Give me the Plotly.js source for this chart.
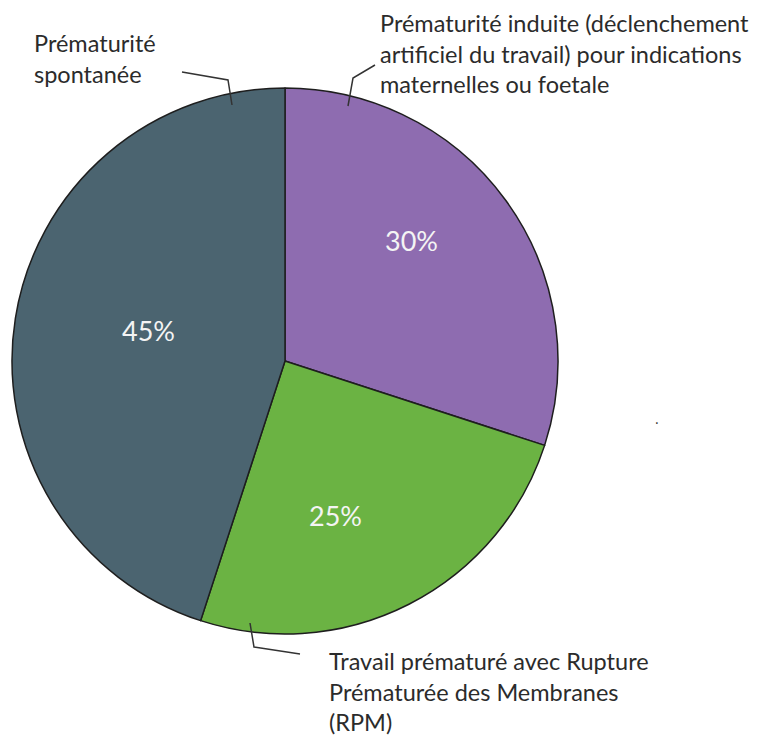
<!DOCTYPE html>
<html><head><meta charset="utf-8">
<script src="https://cdn.plot.ly/plotly-3.0.1.min.js"></script>
<style>html,body{margin:0;padding:0;background:#fff}#chart{width:773px;height:738px}</style>
</head><body><div id="chart"></div>
<script>
// data
const categories = [
  "Prématurité induite (déclenchement<br>artificiel du travail) pour indications<br>maternelles ou foetale",
  "Travail prématuré avec Rupture<br>Prématurée des Membranes<br>(RPM)",
  "Prématurité<br>spontanée"
];
const values = [30, 25, 45];
const colors = ["#8e6cb0", "#6bb343", "#4b6470"];

const W = 773, H = 738;
const px = x => x / W;
const py = y => 1 - y / H;

// label positions (pixels) for category text and percent text
const catPos = [[378, 7], [327, 645], [32, 27]];
const pctPos = [[411, 240], [335, 515], [148, 330]];
const leaders = [
  [[348,106],[353,78],[375,65]],
  [[250,623],[254,647],[300,654]],
  [[232,105],[228,80],[182,72]]
];

const annotations = [];
const shapes = [];
categories.forEach((c, i) => {
  annotations.push({
    xref: 'paper', yref: 'paper', x: px(catPos[i][0]), y: py(catPos[i][1]),
    xanchor: 'left', yanchor: 'top', align: 'left', showarrow: false,
    text: c, font: {family: 'Lato, "Open Sans", sans-serif', size: 23.5, color: '#2b2b2b'}
  });
  annotations.push({
    xref: 'paper', yref: 'paper', x: px(pctPos[i][0]), y: py(pctPos[i][1]),
    xanchor: 'center', yanchor: 'middle', showarrow: false,
    text: values[i] + '%', font: {family: 'Lato, "Open Sans", sans-serif', size: 27, color: '#f4f4f4'}
  });
  const p = leaders[i];
  shapes.push({
    type: 'path', xref: 'paper', yref: 'paper',
    path: 'M' + p.map(q => px(q[0]) + ',' + py(q[1])).join(' L'),
    line: {color: '#333', width: 1.5}
  });
});
annotations.push({xref:'paper',yref:'paper',x:px(661),y:py(430),showarrow:false,text:'.',font:{size:14,color:'#333'},yanchor:'bottom'});

const trace = {
  type: 'pie',
  labels: categories,
  values: values,
  sort: false,
  direction: 'clockwise',
  rotation: 0,
  textinfo: 'none',
  hoverinfo: 'label+percent',
  marker: {colors: colors, line: {color: '#1e1e1e', width: 1.5}},
  domain: {x: [px(12), px(558)], y: [py(634), py(88)]},
  showlegend: false
};

Plotly.newPlot('chart', [trace], {
  width: W, height: H,
  margin: {l: 0, r: 0, t: 0, b: 0},
  paper_bgcolor: '#fff',
  showlegend: false,
  annotations: annotations,
  shapes: shapes
}, {displayModeBar: false, staticPlot: true});
</script></body></html>
